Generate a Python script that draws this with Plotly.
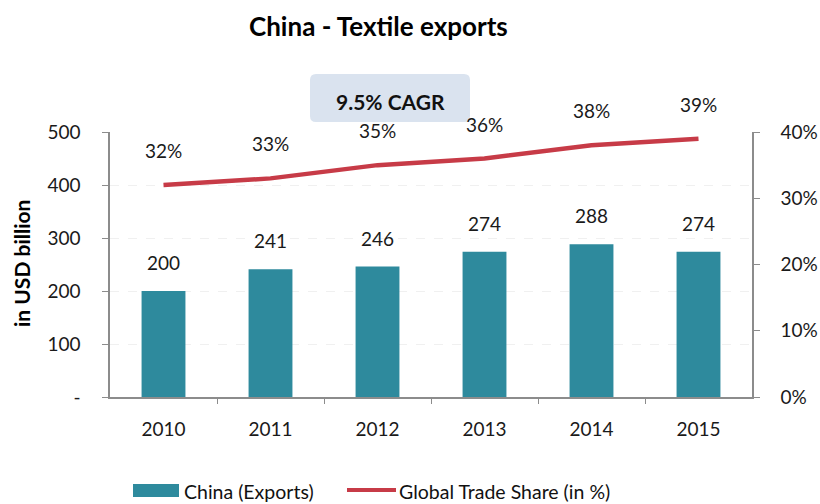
import plotly.graph_objects as go

# Data
years = ["2010", "2011", "2012", "2013", "2014", "2015"]
exports_usd_bn = [200, 241, 246, 274, 288, 274]
trade_share_pct = [32, 33, 35, 36, 38, 39]
left_ticks = [0, 100, 200, 300, 400, 500]
left_tick_text = ["-", "100", "200", "300", "400", "500"]
right_ticks = [0, 0.1, 0.2, 0.3, 0.4]
right_tick_text = ["0%", "10%", "20%", "30%", "40%"]

W, H = 820, 504
ML, MR, MT, MB = 110, 68, 132, 107
PW, PH = W - ML - MR, H - MT - MB

BAR = "#2E8A9D"
LINE = "#C73B47"
AXIS = "#8C8C8C"
FONT = "Lato, 'Open Sans', sans-serif"

xpos = list(range(len(years)))
boundaries = [i + 0.5 for i in range(len(years) - 1)]


def px(x):
    return (x - ML) / PW


def py(y):
    return (H - MB - y) / PH


def paper_text(x, y, text, size, **kw):
    d = dict(x=px(x), y=py(y), xref="paper", yref="paper", text=text, showarrow=False,
             xanchor="center", yanchor="middle", font=dict(size=size, color="#111"))
    d.update(kw)
    return d


fig = go.Figure()
fig.add_trace(go.Bar(
    x=xpos, y=exports_usd_bn, marker=dict(color=BAR, line=dict(width=0)),
    width=0.41, name="China (Exports)", showlegend=False, hoverinfo="skip",
))
fig.add_trace(go.Scatter(
    x=xpos, y=[v / 100 for v in trade_share_pct], yaxis="y2", mode="lines",
    line=dict(color=LINE, width=4.5), name="Global Trade Share (in %)",
    showlegend=False, hoverinfo="skip",
))

annotations = []
for i, v in zip(xpos, exports_usd_bn):
    annotations.append(dict(x=i, y=v, xref="x", yref="y", text=str(v), showarrow=False,
                            yanchor="bottom", yshift=15, font=dict(size=19, color="#1a1a1a")))
for i, v in zip(xpos, trade_share_pct):
    annotations.append(dict(x=i, y=v / 100, xref="x", yref="y2", text=f"{v}%", showarrow=False,
                            yanchor="bottom", yshift=21, font=dict(size=19, color="#1a1a1a")))

# Title, callout text, axis title
annotations.append(paper_text(378, 26, "<b>China - Textile exports</b>", 26, font=dict(size=26, color="#000")))
annotations.append(paper_text(390, 101, "<b>9.5% CAGR</b>", 21))
annotations.append(paper_text(21, 264, "<b>in USD billion</b>", 21, textangle=-90,
                              font=dict(size=21, color="#000")))

# Custom legend
annotations.append(paper_text(182, 491, "China (Exports)", 19.5, xanchor="left",
                              font=dict(size=19.5, color="#111")))
annotations.append(paper_text(397, 491, "Global Trade Share (in %)", 19.5, xanchor="left",
                              font=dict(size=19.5, color="#111")))

# Rounded callout box, drawn in pixels around its centre
bw, bh, r = 160, 48, 6
hw, hh = bw / 2, bh / 2
box_path = (f"M {-hw + r},{-hh} L {hw - r},{-hh} Q {hw},{-hh} {hw},{-hh + r} "
            f"L {hw},{hh - r} Q {hw},{hh} {hw - r},{hh} L {-hw + r},{hh} "
            f"Q {-hw},{hh} {-hw},{hh - r} L {-hw},{-hh + r} Q {-hw},{-hh} {-hw + r},{-hh} Z")

shapes = [
    dict(type="path", xref="paper", yref="paper", xsizemode="pixel", ysizemode="pixel",
         xanchor=px(390), yanchor=py(98), path=box_path,
         fillcolor="#DAE3EF", line=dict(width=0), layer="below"),
    dict(type="rect", xref="paper", yref="paper", x0=px(133), x1=px(179), y0=py(484), y1=py(497),
         fillcolor=BAR, line=dict(width=0)),
    dict(type="line", xref="paper", yref="paper", x0=px(347), x1=px(396), y0=py(490), y1=py(490),
         line=dict(color=LINE, width=4)),
]

fig.update_layout(
    width=W, height=H, margin=dict(l=ML, r=MR, t=MT, b=MB, autoexpand=False),
    paper_bgcolor="white", plot_bgcolor="white",
    font=dict(family=FONT, size=19, color="#1a1a1a"),
    showlegend=False,
    xaxis=dict(range=[-0.5, len(years) - 0.5], tickvals=xpos, ticktext=years,
               showline=True, linecolor=AXIS, linewidth=1.5, ticks="", showgrid=False,
               zeroline=False, ticklabelstandoff=14, tickfont=dict(size=19), automargin=False,
               minor=dict(tickvals=boundaries, ticks="outside", ticklen=5, tickcolor=AXIS,
                          showgrid=False)),
    yaxis=dict(range=[0, 500], tickvals=left_ticks, ticktext=left_tick_text,
               showline=True, linecolor=AXIS, linewidth=1.5, ticks="outside", ticklen=6,
               tickcolor=AXIS, showgrid=True, gridcolor="#F0F0F0", griddash="dash",
               zeroline=False, tickfont=dict(size=19), ticklabelstandoff=18, automargin=False),
    yaxis2=dict(range=[0, 0.4], tickvals=right_ticks, ticktext=right_tick_text, overlaying="y",
                side="right", showline=True, linecolor=AXIS, linewidth=1.5, ticks="outside",
                ticklen=6, tickcolor=AXIS, showgrid=False, zeroline=False,
                tickfont=dict(size=19), ticklabelstandoff=17, automargin=False),
    annotations=annotations, shapes=shapes,
)

fig.write_html("out.html")
